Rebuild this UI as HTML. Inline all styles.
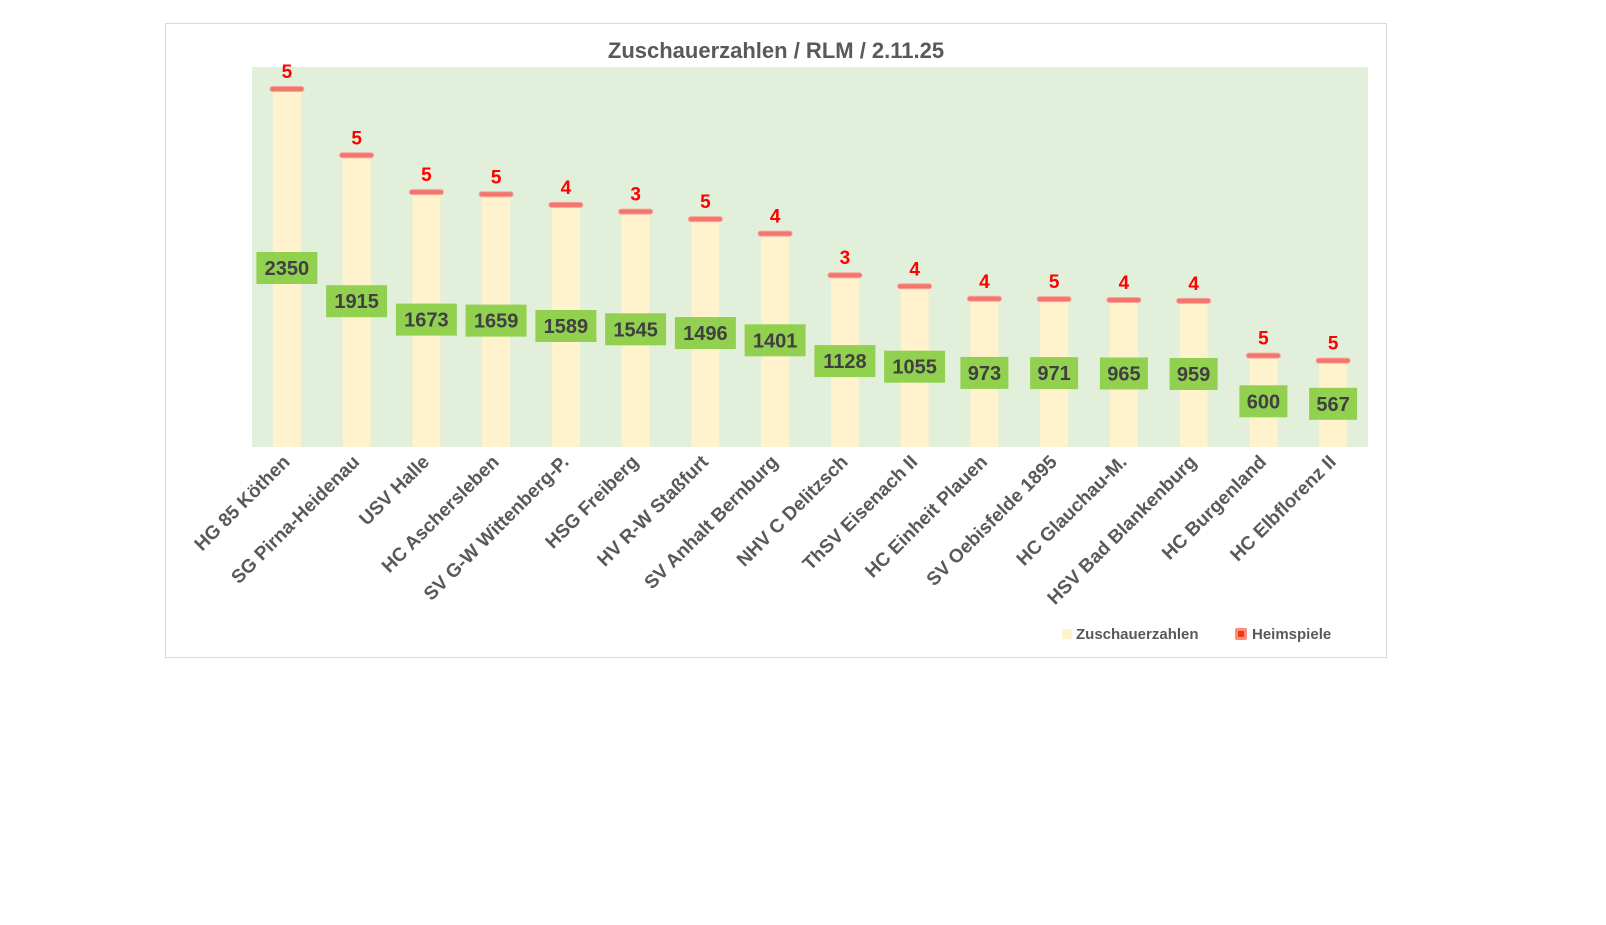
<!DOCTYPE html>
<html><head><meta charset="utf-8"><style>body{margin:0;background:#fff}svg{display:block}</style></head><body>
<svg width="1606" height="925" xmlns="http://www.w3.org/2000/svg" font-family="Liberation Sans, DejaVu Sans, sans-serif">
<defs><style>
.b{fill:#fff2cc}.mk{fill:#f4756b;stroke:#f8a59e;stroke-width:1}
.n{font-size:19px;font-weight:bold;fill:#ff0000;text-anchor:middle}
.g{fill:#92d050}.v{font-size:20px;font-weight:bold;fill:#404040;text-anchor:middle}
.l{font-size:19px;font-weight:bold;fill:#595959;text-anchor:end}
</style></defs>
<rect x="165.5" y="23.5" width="1221" height="634" fill="#fff" stroke="#d9d9d9"/>
<text x="776" y="58" text-anchor="middle" font-size="22" font-weight="bold" fill="#595959">Zuschauerzahlen / RLM / 2.11.25</text>
<rect x="252" y="67" width="1116" height="380" fill="#e2efda"/>

<g transform="translate(286.9,0)"><rect class="b" x="-14" y="89" width="28" height="358"/><rect class="mk" x="-17" y="86.5" width="34" height="5" rx="2.5"/><text class="n" y="78">5</text><rect class="g" x="-30.5" y="252" width="61" height="32"/><text class="v" y="275">2350</text><text class="l" transform="translate(4,463) rotate(-45)">HG 85 Köthen</text></g>
<g transform="translate(356.6,0)"><rect class="b" x="-14" y="155.3" width="28" height="291.7"/><rect class="mk" x="-17" y="152.8" width="34" height="5" rx="2.5"/><text class="n" y="144.3">5</text><rect class="g" x="-30.5" y="285.2" width="61" height="32"/><text class="v" y="308.2">1915</text><text class="l" transform="translate(4,463) rotate(-45)">SG Pirna-Heidenau</text></g>
<g transform="translate(426.4,0)"><rect class="b" x="-14" y="192.1" width="28" height="254.9"/><rect class="mk" x="-17" y="189.6" width="34" height="5" rx="2.5"/><text class="n" y="181.1">5</text><rect class="g" x="-30.5" y="303.6" width="61" height="32"/><text class="v" y="326.6">1673</text><text class="l" transform="translate(4,463) rotate(-45)">USV Halle</text></g>
<g transform="translate(496.1,0)"><rect class="b" x="-14" y="194.3" width="28" height="252.7"/><rect class="mk" x="-17" y="191.8" width="34" height="5" rx="2.5"/><text class="n" y="183.3">5</text><rect class="g" x="-30.5" y="304.6" width="61" height="32"/><text class="v" y="327.6">1659</text><text class="l" transform="translate(4,463) rotate(-45)">HC Aschersleben</text></g>
<g transform="translate(565.9,0)"><rect class="b" x="-14" y="204.9" width="28" height="242.1"/><rect class="mk" x="-17" y="202.4" width="34" height="5" rx="2.5"/><text class="n" y="193.9">4</text><rect class="g" x="-30.5" y="310" width="61" height="32"/><text class="v" y="333">1589</text><text class="l" transform="translate(4,463) rotate(-45)">SV G-W Wittenberg-P.</text></g>
<g transform="translate(635.6,0)"><rect class="b" x="-14" y="211.6" width="28" height="235.4"/><rect class="mk" x="-17" y="209.1" width="34" height="5" rx="2.5"/><text class="n" y="200.6">3</text><rect class="g" x="-30.5" y="313.3" width="61" height="32"/><text class="v" y="336.3">1545</text><text class="l" transform="translate(4,463) rotate(-45)">HSG Freiberg</text></g>
<g transform="translate(705.4,0)"><rect class="b" x="-14" y="219.1" width="28" height="227.9"/><rect class="mk" x="-17" y="216.6" width="34" height="5" rx="2.5"/><text class="n" y="208.1">5</text><rect class="g" x="-30.5" y="317" width="61" height="32"/><text class="v" y="340">1496</text><text class="l" transform="translate(4,463) rotate(-45)">HV R-W Staßfurt</text></g>
<g transform="translate(775.1,0)"><rect class="b" x="-14" y="233.6" width="28" height="213.4"/><rect class="mk" x="-17" y="231.1" width="34" height="5" rx="2.5"/><text class="n" y="222.6">4</text><rect class="g" x="-30.5" y="324.3" width="61" height="32"/><text class="v" y="347.3">1401</text><text class="l" transform="translate(4,463) rotate(-45)">SV Anhalt Bernburg</text></g>
<g transform="translate(844.9,0)"><rect class="b" x="-14" y="275.2" width="28" height="171.8"/><rect class="mk" x="-17" y="272.7" width="34" height="5" rx="2.5"/><text class="n" y="264.2">3</text><rect class="g" x="-30.5" y="345.1" width="61" height="32"/><text class="v" y="368.1">1128</text><text class="l" transform="translate(4,463) rotate(-45)">NHV C Delitzsch</text></g>
<g transform="translate(914.6,0)"><rect class="b" x="-14" y="286.3" width="28" height="160.7"/><rect class="mk" x="-17" y="283.8" width="34" height="5" rx="2.5"/><text class="n" y="275.3">4</text><rect class="g" x="-30.5" y="350.7" width="61" height="32"/><text class="v" y="373.7">1055</text><text class="l" transform="translate(4,463) rotate(-45)">ThSV Eisenach II</text></g>
<g transform="translate(984.4,0)"><rect class="b" x="-14" y="298.8" width="28" height="148.2"/><rect class="mk" x="-17" y="296.3" width="34" height="5" rx="2.5"/><text class="n" y="287.8">4</text><rect class="g" x="-24" y="356.9" width="48" height="32"/><text class="v" y="379.9">973</text><text class="l" transform="translate(4,463) rotate(-45)">HC Einheit Plauen</text></g>
<g transform="translate(1054.1,0)"><rect class="b" x="-14" y="299.1" width="28" height="147.9"/><rect class="mk" x="-17" y="296.6" width="34" height="5" rx="2.5"/><text class="n" y="288.1">5</text><rect class="g" x="-24" y="357.1" width="48" height="32"/><text class="v" y="380.1">971</text><text class="l" transform="translate(4,463) rotate(-45)">SV Oebisfelde 1895</text></g>
<g transform="translate(1123.9,0)"><rect class="b" x="-14" y="300" width="28" height="147"/><rect class="mk" x="-17" y="297.5" width="34" height="5" rx="2.5"/><text class="n" y="289">4</text><rect class="g" x="-24" y="357.5" width="48" height="32"/><text class="v" y="380.5">965</text><text class="l" transform="translate(4,463) rotate(-45)">HC Glauchau-M.</text></g>
<g transform="translate(1193.6,0)"><rect class="b" x="-14" y="300.9" width="28" height="146.1"/><rect class="mk" x="-17" y="298.4" width="34" height="5" rx="2.5"/><text class="n" y="289.9">4</text><rect class="g" x="-24" y="358" width="48" height="32"/><text class="v" y="381">959</text><text class="l" transform="translate(4,463) rotate(-45)">HSV Bad Blankenburg</text></g>
<g transform="translate(1263.4,0)"><rect class="b" x="-14" y="355.6" width="28" height="91.4"/><rect class="mk" x="-17" y="353.1" width="34" height="5" rx="2.5"/><text class="n" y="344.6">5</text><rect class="g" x="-24" y="385.3" width="48" height="32"/><text class="v" y="408.3">600</text><text class="l" transform="translate(4,463) rotate(-45)">HC Burgenland</text></g>
<g transform="translate(1333.1,0)"><rect class="b" x="-14" y="360.6" width="28" height="86.4"/><rect class="mk" x="-17" y="358.1" width="34" height="5" rx="2.5"/><text class="n" y="349.6">5</text><rect class="g" x="-24" y="387.8" width="48" height="32"/><text class="v" y="410.8">567</text><text class="l" transform="translate(4,463) rotate(-45)">HC Elbflorenz II</text></g>

<rect x="1062" y="629" width="10" height="10" fill="#fff2cc"/>
<text x="1076" y="639" font-size="15" font-weight="bold" fill="#595959">Zuschauerzahlen</text>
<rect x="1235" y="628" width="12" height="12" fill="#ff8a80" rx="2"/><rect x="1238" y="631" width="6" height="6" fill="#e8400c"/>
<text x="1252" y="639" font-size="15" font-weight="bold" fill="#595959">Heimspiele</text>
</svg>
</body></html>
